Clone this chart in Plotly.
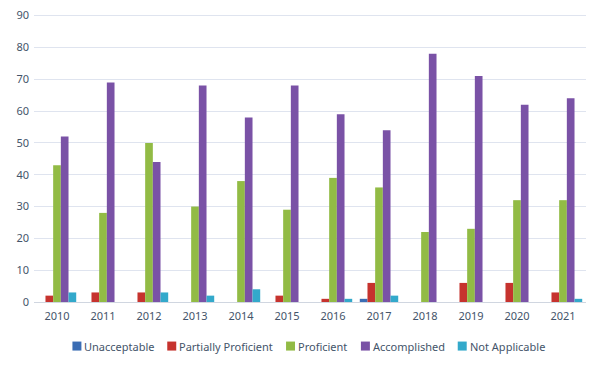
import plotly.graph_objects as go

years = ["2010","2011","2012","2013","2014","2015","2016","2017","2018","2019","2020","2021"]
unacceptable = [0,0,0,0,0,0,0,1,0,0,0,0]
partially = [2,3,3,0,0,2,1,6,0,6,6,3]
proficient = [43,28,50,30,38,29,39,36,22,23,32,32]
accomplished = [52,69,44,68,58,68,59,54,78,71,62,64]
not_applicable = [3,0,3,2,4,0,1,2,0,0,0,1]

series_names = ["Unacceptable", "Partially Proficient", "Proficient", "Accomplished", "Not Applicable"]
series_values = [unacceptable, partially, proficient, accomplished, not_applicable]
series_colors = ["#3b6db4", "#c6332e", "#92bb45", "#7a52a6", "#33a9cb"]

# page offset introduced by the default body margin of the html page
OFF = 8
W, H = 600 - OFF, 366 - OFF
YTOP = 90.5  # small headroom so the 90 gridline is drawn inside the plot area
# plot area in page pixels: x 33.5..586.5, y (90 line at 16) .. 302
top_page = 302 - (302 - 16) * YTOP / 90
L = 33.5 - OFF
T = top_page - OFF
R = W - (586.5 - OFF)
B = H - (302 - OFF)
pw, ph = W - L - R, H - T - B

fig = go.Figure()
for name, vals, col in zip(series_names, series_values, series_colors):
    fig.add_trace(go.Bar(x=years, y=vals, name=name, showlegend=False,
                         marker=dict(color=col, line=dict(width=0))))

# custom legend (square immediately followed by label, like the original); page pixels
legend_x = [72, 167, 286, 361, 458]
legend_y = 346
shapes, annotations = [], []
def px_to_paper_x(px):
    return (px - OFF - L) / pw
def px_to_paper_y(py):
    return (H - B - (py - OFF)) / ph
for name, col, lx in zip(series_names, series_colors, legend_x):
    shapes.append(dict(type="rect", xref="paper", yref="paper",
                       x0=px_to_paper_x(lx), x1=px_to_paper_x(lx + 9),
                       y0=px_to_paper_y(legend_y + 4.5), y1=px_to_paper_y(legend_y - 4.5),
                       fillcolor=col, line=dict(width=0)))
    annotations.append(dict(text=name, xref="paper", yref="paper",
                            x=px_to_paper_x(lx + 10), y=px_to_paper_y(legend_y),
                            xanchor="left", yanchor="middle", showarrow=False,
                            font=dict(size=11, color="#44546a")))

fig.update_layout(
    width=W, height=H,
    barmode="group", bargap=0.165, bargroupgap=0,
    paper_bgcolor="white", plot_bgcolor="white",
    margin=dict(l=L, r=R, t=T, b=B, autoexpand=False),
    font=dict(family="Noto Sans, sans-serif", size=11, color="#44546a"),
    showlegend=False,
    yaxis=dict(range=[0, YTOP], tickvals=list(range(0, 91, 10)), gridcolor="#dfe4ef", gridwidth=1,
               zeroline=False, showline=False, ticks="", tickfont=dict(size=11),
               ticklabelstandoff=4, ticklabeloverflow="allow"),
    xaxis=dict(showline=True, linecolor="#d0d6e0", ticks="", tickfont=dict(size=11),
               ticklabelstandoff=4),
    shapes=shapes,
    annotations=annotations,
)
fig.write_html("out.html")
